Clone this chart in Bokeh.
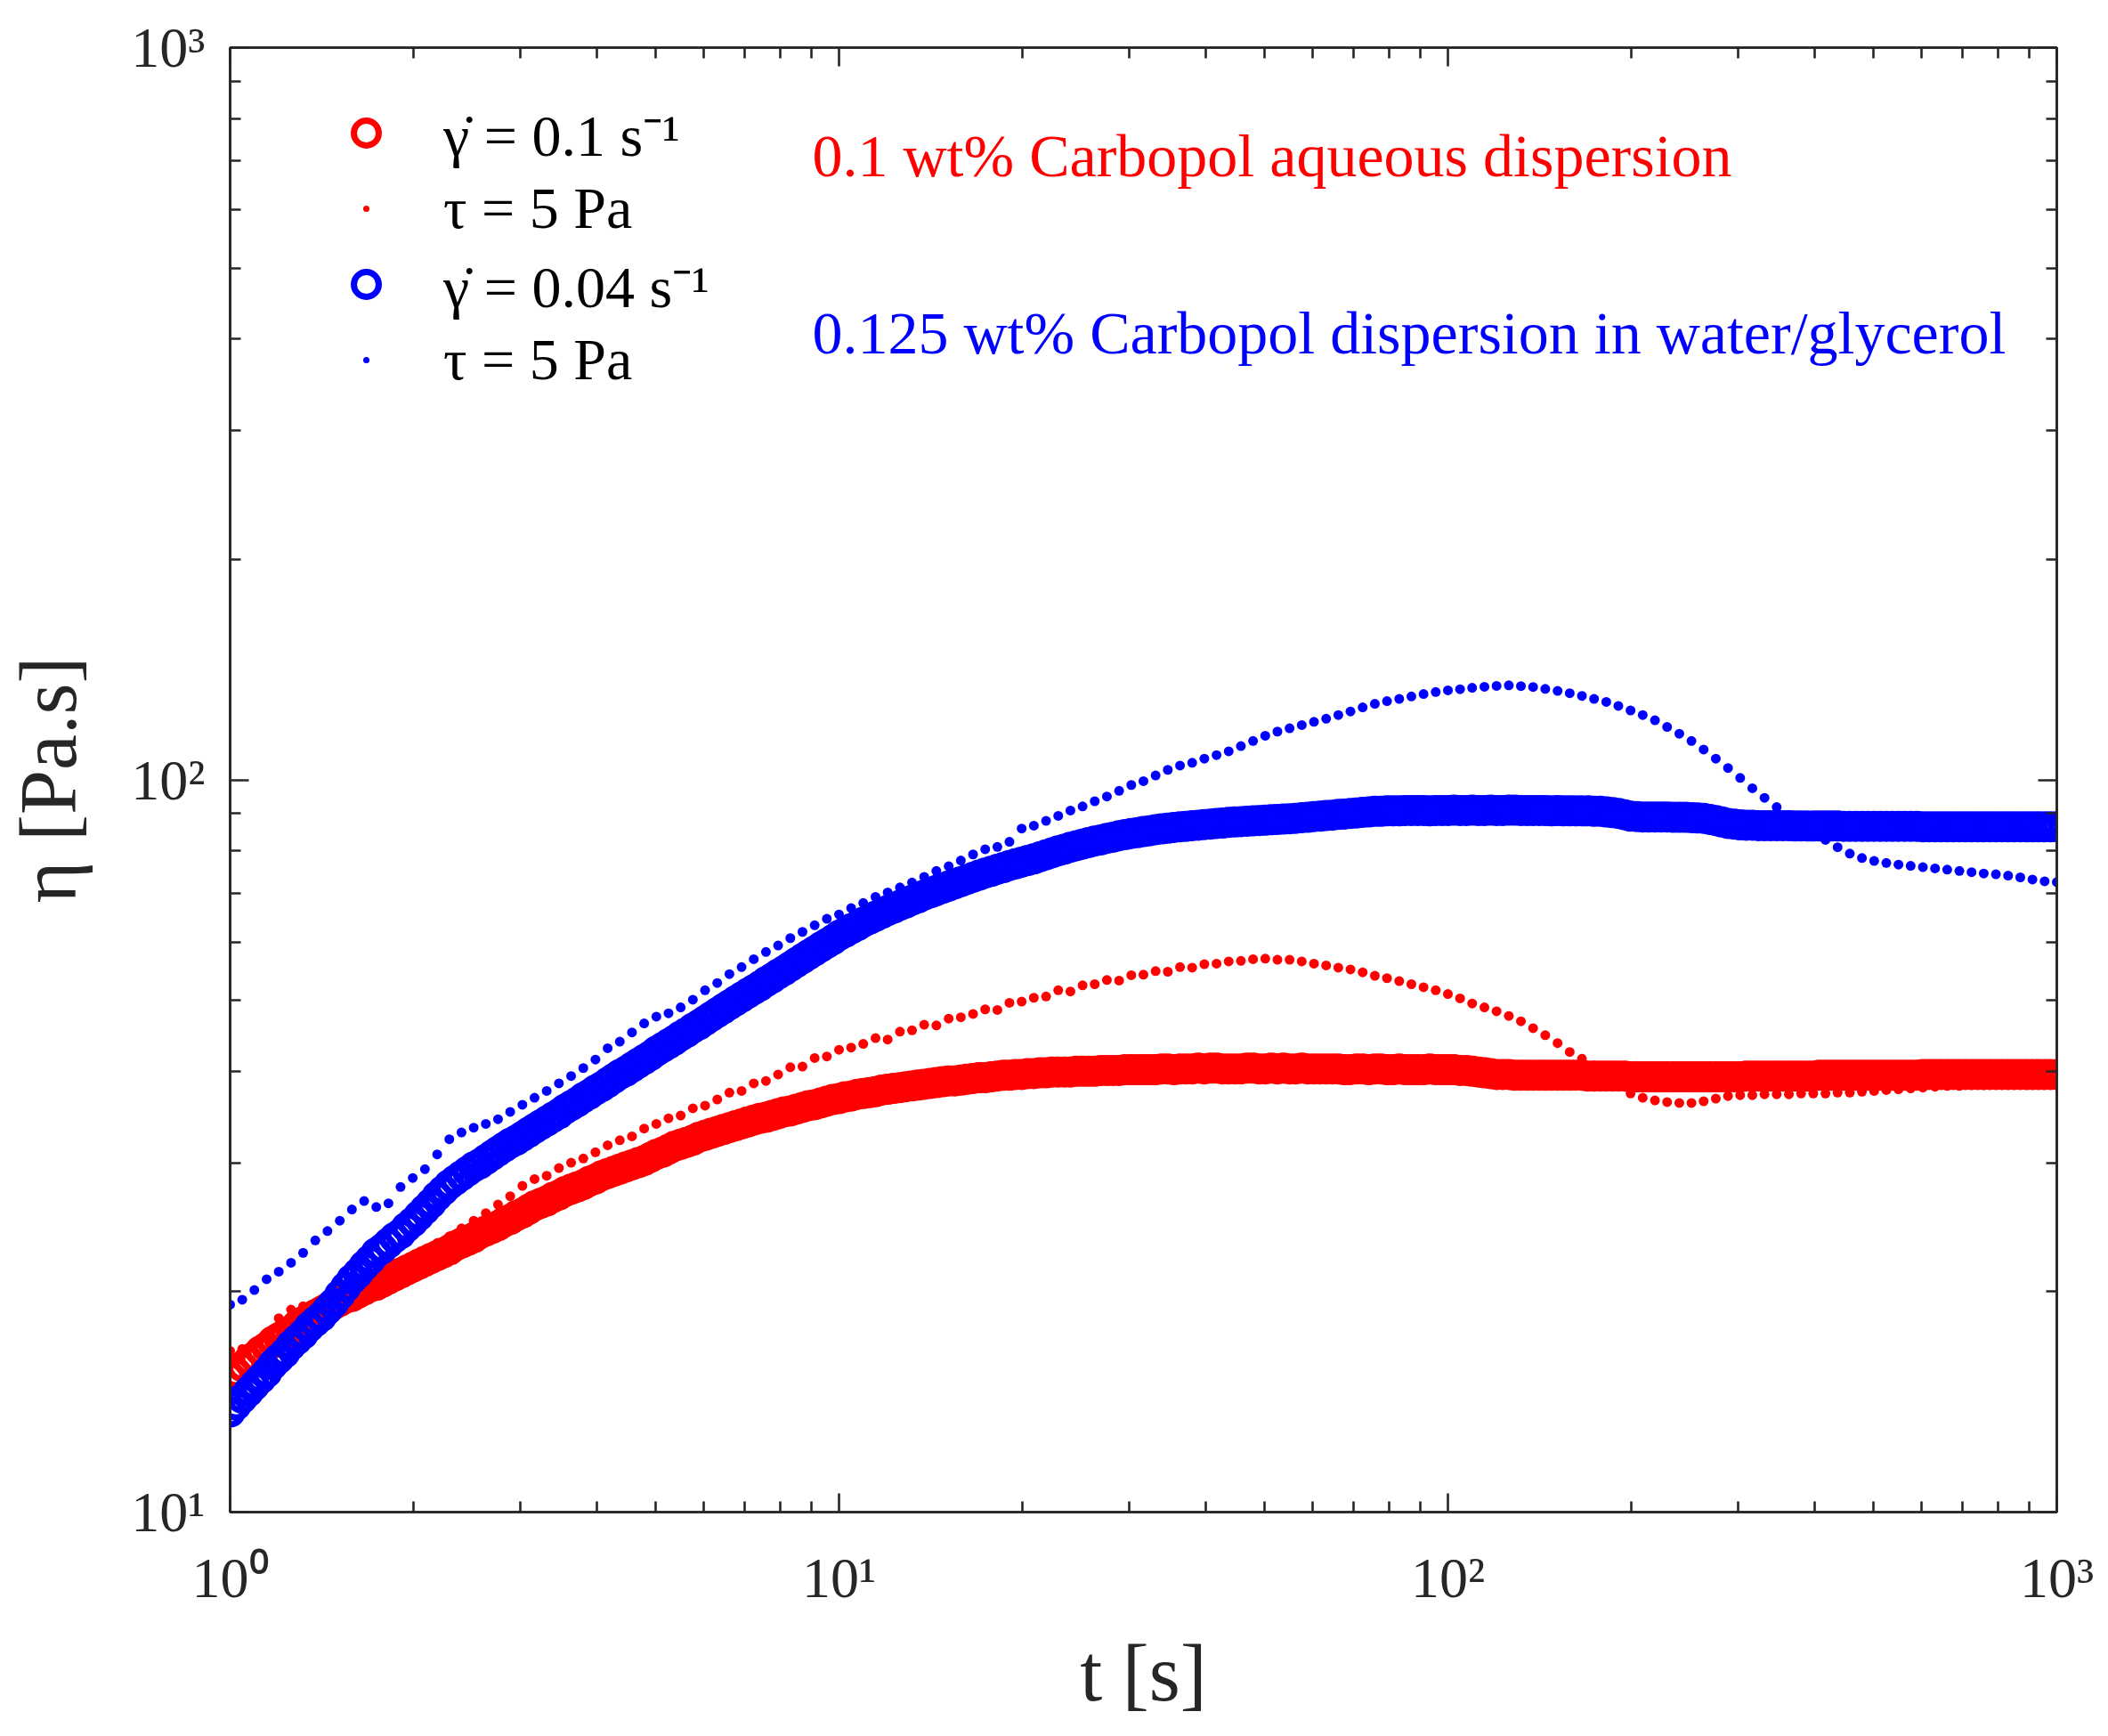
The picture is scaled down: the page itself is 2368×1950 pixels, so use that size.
from bokeh.plotting import figure
from bokeh.models import (ColumnDataSource, Range1d, LogAxis, FixedTicker,
                          Legend, LegendItem, Label)
from bokeh.embed import file_html
from bokeh.resources import INLINE

# ---------------- data ----------------
# sampling times of the imposed-shear-rate runs (open circles)
T_RATE = [
    1.000, 1.023, 1.047, 1.072, 1.096, 1.122, 1.148, 1.175, 1.202, 1.230,
    1.259, 1.288, 1.318, 1.349, 1.380, 1.413, 1.445, 1.479, 1.514, 1.549,
    1.585, 1.622, 1.660, 1.698, 1.738, 1.778, 1.820, 1.862, 1.905, 1.950,
    1.995, 2.042, 2.089, 2.138, 2.188, 2.239, 2.291, 2.344, 2.399, 2.455,
    2.512, 2.570, 2.630, 2.692, 2.754, 2.818, 2.884, 2.951, 3.020, 3.090,
    3.162, 3.236, 3.311, 3.388, 3.467, 3.548, 3.631, 3.715, 3.802, 3.890,
    3.981, 4.074, 4.169, 4.266, 4.365, 4.467, 4.571, 4.677, 4.786, 4.898,
    5.012, 5.129, 5.248, 5.370, 5.495, 5.623, 5.754, 5.888, 6.026, 6.166,
    6.310, 6.457, 6.607, 6.761, 6.918, 7.079, 7.244, 7.413, 7.586, 7.762,
    7.943, 8.128, 8.318, 8.511, 8.710, 8.913, 9.120, 9.333, 9.550, 9.772,
    10.00, 10.23, 10.47, 10.72, 10.96, 11.22, 11.48, 11.75, 12.02, 12.30,
    12.59, 12.88, 13.18, 13.49, 13.80, 14.13, 14.45, 14.79, 15.14, 15.49,
    15.85, 16.22, 16.60, 16.98, 17.38, 17.78, 18.20, 18.62, 19.05, 19.50,
    19.95, 20.42, 20.89, 21.38, 21.88, 22.39, 22.91, 23.44, 23.99, 24.55,
    25.12, 25.70, 26.30, 26.92, 27.54, 28.18, 28.84, 29.51, 30.20, 30.90,
    31.62, 32.36, 33.11, 33.88, 34.67, 35.48, 36.31, 37.15, 38.02, 38.90,
    39.81, 40.74, 41.69, 42.66, 43.65, 44.67, 45.71, 46.77, 47.86, 48.98,
    50.12, 51.29, 52.48, 53.70, 54.95, 56.23, 57.54, 58.88, 60.26, 61.66,
    63.10, 64.57, 66.07, 67.61, 69.18, 70.79, 72.44, 74.13, 75.86, 77.62,
    79.43, 81.28, 83.18, 85.11, 87.10, 89.13, 91.20, 93.33, 95.50, 97.72,
    100.0, 102.3, 104.7, 107.2, 109.6, 112.2, 114.8, 117.5, 120.2, 123.0,
    125.9, 128.8, 131.8, 134.9, 138.0, 141.3, 144.5, 147.9, 151.4, 154.9,
    158.5, 162.2, 166.0, 169.8, 173.8, 177.8, 182.0, 186.2, 190.5, 195.0,
    199.5, 204.2, 208.9, 213.8, 218.8, 223.9, 229.1, 234.4, 239.9, 245.5,
    251.2, 257.0, 263.0, 269.2, 275.4, 281.8, 288.4, 295.1, 302.0, 309.0,
    316.2, 323.6, 331.1, 338.8, 346.7, 354.8, 363.1, 371.5, 380.2, 389.0,
    398.1, 407.4, 416.9, 426.6, 436.5, 446.7, 457.1, 467.7, 478.6, 489.8,
    501.2, 512.9, 524.8, 537.0, 549.5, 562.3, 575.4, 588.8, 602.6, 616.6,
    631.0, 645.7, 660.7, 676.1, 691.8, 707.9, 724.4, 741.3, 758.6, 776.2,
    794.3, 812.8, 831.8, 851.1, 871.0, 891.3, 912.0, 933.3, 955.0, 977.2,
    1000.0]

# 0.1 wt% Carbopol, imposed shear rate 0.1 1/s
ETA_RATE_RED = [
    15.3, 15.5, 15.8, 16.1, 16.3, 16.6, 16.8, 17.1, 17.3, 17.5,
    17.7, 18.0, 18.2, 18.4, 18.6, 18.8, 19.0, 19.2, 19.4, 19.6,
    19.7, 19.9, 20.1, 20.3, 20.4, 20.6, 20.8, 21.0, 21.2, 21.4,
    21.6, 21.8, 22.0, 22.2, 22.4, 22.6, 22.8, 23.1, 23.3, 23.5,
    23.7, 24.0, 24.2, 24.4, 24.6, 24.9, 25.1, 25.4, 25.6, 25.9,
    26.2, 26.4, 26.6, 26.9, 27.1, 27.4, 27.6, 27.8, 28.0, 28.3,
    28.5, 28.8, 29.0, 29.2, 29.4, 29.6, 29.8, 30.0, 30.2, 30.5,
    30.8, 31.0, 31.3, 31.6, 31.8, 32.0, 32.2, 32.5, 32.7, 32.9,
    33.1, 33.3, 33.5, 33.7, 33.9, 34.1, 34.3, 34.5, 34.6, 34.8,
    35.0, 35.2, 35.3, 35.5, 35.7, 35.9, 36.0, 36.2, 36.4, 36.6,
    36.7, 36.9, 37.0, 37.2, 37.3, 37.4, 37.5, 37.7, 37.8, 37.9,
    38.0, 38.1, 38.2, 38.3, 38.4, 38.5, 38.6, 38.7, 38.8, 38.8,
    38.9, 39.0, 39.1, 39.2, 39.2, 39.3, 39.4, 39.5, 39.5, 39.6,
    39.6, 39.7, 39.7, 39.8, 39.8, 39.9, 39.9, 39.9, 39.9, 40.0,
    40.0, 40.0, 40.0, 40.1, 40.1, 40.1, 40.1, 40.2, 40.2, 40.2,
    40.2, 40.2, 40.2, 40.3, 40.3, 40.2, 40.3, 40.3, 40.3, 40.4,
    40.3, 40.4, 40.4, 40.3, 40.3, 40.3, 40.3, 40.4, 40.4, 40.3,
    40.3, 40.4, 40.3, 40.4, 40.3, 40.3, 40.4, 40.3, 40.3, 40.3,
    40.3, 40.3, 40.3, 40.2, 40.2, 40.3, 40.3, 40.2, 40.3, 40.3,
    40.2, 40.2, 40.3, 40.2, 40.2, 40.2, 40.2, 40.3, 40.2, 40.2,
    40.2, 40.2, 40.1, 40.1, 40.0, 39.9, 39.8, 39.7, 39.6, 39.6,
    39.6, 39.5, 39.5, 39.5, 39.5, 39.5, 39.5, 39.5, 39.5, 39.5,
    39.5, 39.5, 39.5, 39.4, 39.4, 39.4, 39.4, 39.4, 39.4, 39.4,
    39.3, 39.3, 39.3, 39.3, 39.3, 39.3, 39.3, 39.3, 39.3, 39.3,
    39.3, 39.3, 39.3, 39.3, 39.3, 39.3, 39.3, 39.3, 39.3, 39.4,
    39.4, 39.4, 39.4, 39.4, 39.4, 39.4, 39.4, 39.4, 39.4, 39.4,
    39.4, 39.5, 39.5, 39.5, 39.5, 39.5, 39.5, 39.5, 39.5, 39.5,
    39.5, 39.5, 39.5, 39.5, 39.5, 39.5, 39.5, 39.5, 39.6, 39.6,
    39.6, 39.6, 39.6, 39.6, 39.6, 39.6, 39.6, 39.6, 39.6, 39.6,
    39.6, 39.6, 39.6, 39.6, 39.6, 39.6, 39.6, 39.6, 39.6, 39.6,
    39.6]

# 0.125 wt% Carbopol in water/glycerol, imposed shear rate 0.04 1/s
ETA_RATE_BLUE = [
    13.7, 14.0, 14.3, 14.6, 14.9, 15.2, 15.5, 15.9, 16.2, 16.5,
    16.9, 17.2, 17.5, 17.9, 18.2, 18.5, 18.9, 19.3, 19.8, 20.3,
    20.8, 21.2, 21.7, 22.1, 22.6, 22.9, 23.3, 23.7, 24.0, 24.5,
    24.9, 25.4, 25.9, 26.4, 27.0, 27.5, 28.0, 28.4, 28.8, 29.2,
    29.6, 29.9, 30.3, 30.7, 31.1, 31.5, 31.9, 32.2, 32.6, 33.0,
    33.4, 33.8, 34.2, 34.6, 35.0, 35.5, 35.9, 36.3, 36.8, 37.2,
    37.7, 38.1, 38.6, 39.1, 39.6, 40.0, 40.5, 41.0, 41.5, 42.0,
    42.6, 43.1, 43.6, 44.1, 44.7, 45.2, 45.8, 46.3, 46.9, 47.5,
    48.1, 48.7, 49.3, 49.9, 50.5, 51.1, 51.7, 52.3, 53.0, 53.6,
    54.3, 54.9, 55.6, 56.3, 57.0, 57.7, 58.4, 59.1, 59.8, 60.5,
    61.3, 61.9, 62.6, 63.2, 63.9, 64.5, 65.1, 65.7, 66.3, 66.8,
    67.4, 67.9, 68.5, 69.0, 69.6, 70.1, 70.6, 71.1, 71.6, 72.1,
    72.6, 73.1, 73.6, 74.1, 74.6, 75.0, 75.5, 75.9, 76.4, 76.8,
    77.2, 77.6, 78.0, 78.5, 79.0, 79.5, 80.0, 80.4, 80.9, 81.3,
    81.7, 82.1, 82.5, 82.8, 83.2, 83.5, 83.9, 84.2, 84.5, 84.7,
    85.0, 85.2, 85.5, 85.7, 85.9, 86.1, 86.3, 86.4, 86.6, 86.7,
    86.9, 87.0, 87.2, 87.3, 87.5, 87.6, 87.7, 87.8, 87.9, 88.0,
    88.1, 88.2, 88.3, 88.4, 88.5, 88.6, 88.8, 88.9, 89.1, 89.2,
    89.4, 89.5, 89.7, 89.8, 90.0, 90.1, 90.3, 90.4, 90.6, 90.6,
    90.7, 90.7, 90.7, 90.8, 90.8, 90.8, 90.8, 90.7, 90.8, 90.8,
    90.8, 90.9, 90.8, 90.8, 90.9, 90.8, 90.8, 90.9, 90.8, 90.8,
    90.9, 90.9, 90.8, 90.8, 90.8, 90.8, 90.8, 90.7, 90.8, 90.7,
    90.7, 90.7, 90.7, 90.7, 90.6, 90.6, 90.4, 90.2, 90.0, 89.6,
    89.2, 89.1, 89.0, 89.0, 89.0, 89.0, 89.0, 88.9, 88.9, 88.9,
    88.8, 88.7, 88.6, 88.3, 88.0, 87.6, 87.2, 87.0, 86.8, 86.7,
    86.7, 86.6, 86.6, 86.6, 86.6, 86.6, 86.6, 86.5, 86.5, 86.5,
    86.5, 86.5, 86.5, 86.5, 86.5, 86.4, 86.4, 86.4, 86.4, 86.4,
    86.4, 86.4, 86.4, 86.4, 86.4, 86.4, 86.4, 86.4, 86.3, 86.3,
    86.3, 86.3, 86.3, 86.3, 86.3, 86.3, 86.3, 86.3, 86.3, 86.3,
    86.3, 86.3, 86.3, 86.3, 86.3, 86.3, 86.3, 86.3, 86.3, 86.3,
    86.3]

# sampling times of the imposed-stress runs (dots)
T_STRESS = [
    1.000, 1.047, 1.096, 1.148, 1.202, 1.259, 1.318, 1.380, 1.445, 1.514,
    1.585, 1.660, 1.738, 1.820, 1.905, 1.995, 2.089, 2.188, 2.291, 2.399,
    2.512, 2.630, 2.754, 2.884, 3.020, 3.162, 3.311, 3.467, 3.631, 3.802,
    3.981, 4.169, 4.365, 4.571, 4.786, 5.012, 5.248, 5.495, 5.754, 6.026,
    6.310, 6.607, 6.918, 7.244, 7.586, 7.943, 8.318, 8.710, 9.120, 9.550,
    10.00, 10.47, 10.96, 11.48, 12.02, 12.59, 13.18, 13.80, 14.45, 15.14,
    15.85, 16.60, 17.38, 18.20, 19.05, 19.95, 20.89, 21.88, 22.91, 23.99,
    25.12, 26.30, 27.54, 28.84, 30.20, 31.62, 33.11, 34.67, 36.31, 38.02,
    39.81, 41.69, 43.65, 45.71, 47.86, 50.12, 52.48, 54.95, 57.54, 60.26,
    63.10, 66.07, 69.18, 72.44, 75.86, 79.43, 83.18, 87.10, 91.20, 95.50,
    100.0, 104.7, 109.6, 114.8, 120.2, 125.9, 131.8, 138.0, 144.5, 151.4,
    158.5, 166.0, 173.8, 182.0, 190.5, 199.5, 208.9, 218.8, 229.1, 239.9,
    251.2, 263.0, 275.4, 288.4, 302.0, 316.2, 331.1, 346.7, 363.1, 380.2,
    398.1, 416.9, 436.5, 457.1, 478.6, 501.2, 524.8, 549.5, 575.4, 602.6,
    631.0, 660.7, 691.8, 724.4, 758.6, 794.3, 831.8, 871.0, 912.0, 955.0,
    1000.0]

# 0.1 wt% Carbopol, imposed stress 5 Pa
ETA_STRESS_RED = [
    16.6, 16.7, 16.9, 17.4, 18.4, 18.9, 19.1, 19.2, 19.5, 19.8,
    20.1, 20.5, 20.9, 21.3, 21.8, 22.2, 22.7, 23.3, 23.8, 24.4,
    25.0, 25.6, 26.3, 27.0, 27.9, 28.5, 28.8, 29.5, 30.0, 30.4,
    31.0, 31.7, 32.2, 32.6, 33.4, 33.9, 34.5, 34.8, 35.6, 35.9,
    36.6, 37.4, 37.6, 38.5, 38.8, 39.6, 40.5, 40.6, 41.7, 41.9,
    42.8, 43.1, 43.6, 44.4, 44.2, 45.3, 45.5, 46.3, 46.2, 47.2,
    47.4, 47.9, 48.6, 48.5, 49.6, 49.8, 50.4, 50.6, 51.6, 51.4,
    52.4, 52.6, 53.3, 53.2, 54.1, 54.2, 54.8, 54.7, 55.5, 55.4,
    56.0, 56.1, 56.5, 56.6, 56.9, 57.0, 56.8, 56.8, 56.5, 56.1,
    55.8, 55.4, 55.1, 54.6, 54.0, 53.6, 53.1, 52.6, 52.1, 51.6,
    51.0, 50.3, 49.5, 48.9, 48.3, 47.6, 46.8, 45.8, 44.8, 43.7,
    42.5, 41.6, 40.7, 39.6, 38.4, 37.3, 36.8, 36.5, 36.3, 36.2,
    36.2, 36.4, 36.7, 37.0, 37.1, 37.1, 37.2, 37.2, 37.2, 37.3,
    37.3, 37.3, 37.4, 37.4, 37.5, 37.6, 37.7, 37.8, 37.9, 38.0,
    38.1, 38.2, 38.2, 38.3, 38.3, 38.4, 38.4, 38.5, 38.5, 38.6,
    38.6]

# 0.125 wt% Carbopol in water/glycerol, imposed stress 5 Pa
ETA_STRESS_BLUE = [
    19.2, 19.5, 20.1, 20.8, 21.3, 21.9, 22.6, 23.5, 24.2, 25.0,
    25.9, 26.6, 26.1, 26.4, 27.8, 28.6, 29.4, 30.8, 32.3, 33.0,
    33.5, 33.9, 34.4, 35.2, 36.0, 36.8, 37.6, 38.5, 39.4, 40.4,
    41.5, 43.0, 43.9, 45.2, 46.5, 47.5, 48.0, 48.9, 50.1, 51.6,
    52.8, 54.3, 55.5, 56.9, 58.2, 59.4, 60.8, 62.0, 63.3, 64.6,
    65.5, 66.8, 67.9, 69.2, 70.2, 71.3, 72.4, 73.7, 75.1, 76.2,
    77.6, 79.1, 80.4, 81.0, 82.3, 85.8, 86.6, 87.9, 89.3, 90.8,
    92.0, 93.5, 94.9, 96.6, 98.4, 99.6, 101.4, 103.2, 104.6, 105.5,
    106.9, 108.1, 109.4, 111.2, 113.0, 114.9, 116.4, 117.6, 118.8, 120.0,
    121.2, 122.6, 124.0, 125.6, 127.0, 128.1, 129.0, 130.0, 131.0, 131.8,
    132.5, 133.0, 133.6, 134.0, 134.4, 134.6, 134.3, 133.9, 133.1, 132.3,
    131.3, 130.2, 129.0, 127.8, 126.2, 124.4, 122.6, 120.6, 118.1, 115.6,
    113.0, 110.0, 106.9, 103.8, 100.6, 97.4, 94.5, 91.8, 89.3, 86.9,
    84.8, 82.8, 80.9, 79.3, 78.2, 77.5, 77.0, 76.6, 76.3, 76.0,
    75.7, 75.4, 75.1, 74.8, 74.5, 74.3, 74.0, 73.6, 73.1, 72.7,
    72.5]

X_MAJOR = [1, 10, 100, 1000]
X_MINOR = [2, 3, 4, 5, 6, 7, 8, 9, 20, 30, 40, 50, 60, 70, 80, 90,
           200, 300, 400, 500, 600, 700, 800, 900]
Y_MAJOR = [10, 100, 1000]
Y_MINOR = [20, 30, 40, 50, 60, 70, 80, 90, 200, 300, 400, 500, 600, 700, 800, 900]
X_TICK_LABELS = ["10\u2070", "10\u00b9", "10\u00b2", "10\u00b3"]
Y_TICK_LABELS = ["10\u00b9", "10\u00b2", "10\u00b3"]

LEGEND_LABELS = ["\u03b3\u0307 = 0.1 s\u207b\u00b9", "\u03c4 = 5 Pa",
                 "\u03b3\u0307 = 0.04 s\u207b\u00b9", "\u03c4 = 5 Pa"]
NOTE_RED = "0.1 wt% Carbopol aqueous dispersion"
NOTE_BLUE = "0.125 wt% Carbopol dispersion in water/glycerol"
X_TITLE = "t [s]"
Y_TITLE = "\u03b7 [Pa.s]"

# ---------------- figure ----------------
RED = "#ff0000"
BLUE = "#0000ff"
AX = "#262626"
FONT = "Liberation Serif"

src_rate = ColumnDataSource(dict(t=T_RATE, red=ETA_RATE_RED, blue=ETA_RATE_BLUE))
src_stress = ColumnDataSource(dict(t=T_STRESS, red=ETA_STRESS_RED, blue=ETA_STRESS_BLUE))

p = figure(width=2368, height=1950, x_axis_type="log", y_axis_type="log",
           x_range=Range1d(1, 1000), y_range=Range1d(10, 1000),
           output_backend="svg", toolbar_location=None,
           min_border_left=258, min_border_right=58,
           min_border_top=53, min_border_bottom=252)
p.xgrid.visible = False
p.ygrid.visible = False
p.background_fill_color = "white"
p.border_fill_color = "white"
p.outline_line_color = AX
p.outline_line_width = 2.6

top_axis = LogAxis()
right_axis = LogAxis()
p.add_layout(top_axis, "above")
p.add_layout(right_axis, "right")

bottom_axis = p.below[0]
left_axis = p.left[0]

bottom_axis.ticker = FixedTicker(ticks=X_MAJOR, minor_ticks=X_MINOR)
top_axis.ticker = FixedTicker(ticks=X_MAJOR, minor_ticks=X_MINOR)
left_axis.ticker = FixedTicker(ticks=Y_MAJOR, minor_ticks=Y_MINOR)
right_axis.ticker = FixedTicker(ticks=Y_MAJOR, minor_ticks=Y_MINOR)

bottom_axis.major_label_overrides = {v: s for v, s in zip(X_MAJOR, X_TICK_LABELS)}
left_axis.major_label_overrides = {v: s for v, s in zip(Y_MAJOR, Y_TICK_LABELS)}

for ax in (bottom_axis, top_axis, left_axis, right_axis):
    ax.axis_line_color = AX
    ax.axis_line_width = 2.6
    ax.major_tick_line_color = AX
    ax.major_tick_line_width = 2.6
    ax.minor_tick_line_color = AX
    ax.minor_tick_line_width = 2.6
    ax.major_tick_in = 21
    ax.major_tick_out = 0
    ax.minor_tick_in = 12
    ax.minor_tick_out = 0
    ax.major_label_text_font = FONT
    ax.major_label_text_color = AX
    ax.major_label_text_font_size = "64px"

for ax in (top_axis, right_axis):
    ax.major_label_text_font_size = "2px"
    ax.major_label_text_color = None
    ax.major_label_standoff = 0

bottom_axis.major_label_standoff = 38
left_axis.major_label_standoff = 28

bottom_axis.axis_label = X_TITLE
left_axis.axis_label = Y_TITLE
for ax in (bottom_axis, left_axis):
    ax.axis_label_text_font = FONT
    ax.axis_label_text_font_style = "normal"
    ax.axis_label_text_font_size = "90px"
    ax.axis_label_text_color = AX
bottom_axis.axis_label_standoff = 19
left_axis.axis_label_standoff = 40

r1 = p.scatter("t", "red", source=src_rate, marker="circle", size=28,
               line_width=7, line_color=RED, fill_color=None)
r2 = p.scatter("t", "red", source=src_stress, marker="dot", size=44,
               line_width=1, line_color=RED, fill_color=RED)
r3 = p.scatter("t", "blue", source=src_rate, marker="circle", size=28,
               line_width=7, line_color=BLUE, fill_color=None)
r4 = p.scatter("t", "blue", source=src_stress, marker="dot", size=44,
               line_width=1, line_color=BLUE, fill_color=BLUE)

legend = Legend(items=[LegendItem(label=LEGEND_LABELS[0], renderers=[r1]),
                       LegendItem(label=LEGEND_LABELS[1], renderers=[r2]),
                       LegendItem(label=LEGEND_LABELS[2], renderers=[r3]),
                       LegendItem(label=LEGEND_LABELS[3], renderers=[r4])],
                location=(118, 1254), glyph_width=70, glyph_height=80,
                label_height=80, spacing=0, padding=0, margin=0,
                label_standoff=52, border_line_color=None,
                background_fill_alpha=0, label_text_font=FONT,
                label_text_font_size="66px", label_text_color="black")
p.add_layout(legend)

p.add_layout(Label(x=654, y=1524, x_units="screen", y_units="screen",
                   text=NOTE_RED, text_color=RED, text_font=FONT,
                   text_font_size="68px", text_baseline="middle"))
p.add_layout(Label(x=654, y=1325, x_units="screen", y_units="screen",
                   text=NOTE_BLUE, text_color=BLUE, text_font=FONT,
                   text_font_size="68px", text_baseline="middle"))

open("out.html", "w").write(file_html(p, INLINE))
